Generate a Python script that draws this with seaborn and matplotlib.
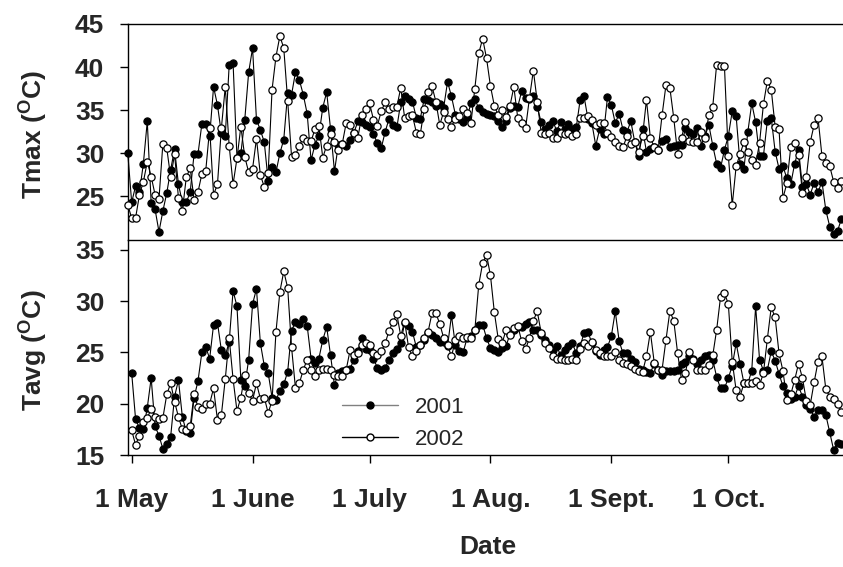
import matplotlib
matplotlib.use("Agg")
import matplotlib.pyplot as plt
from matplotlib.lines import Line2D
import numpy as np
import pandas as pd
import seaborn as sns

# days counted from 1 May (day -1 = 30 April)
days = list(range(-1, 183))

tmax_2001 = [30.0, 24.3, 26.2, 25.5, 28.8, 33.7, 24.2, 23.5, 20.9, 23.3,
             25.4, 28.1, 30.5, 26.4, 24.3, 24.3, 25.5, 29.9, 29.9, 33.4,
             33.4, 32.0, 37.7, 35.6, 32.3, 32.0, 40.2, 40.5, 29.5, 30.0,
             33.9, 39.4, 42.2, 33.9, 32.7, 31.3, 26.8, 28.4, 27.8, 30.0,
             31.6, 37.0, 36.8, 39.4, 38.5, 36.8, 34.6, 29.2, 31.0, 32.0,
             35.3, 37.1, 32.8, 27.9, 31.0, 31.1, 30.8, 31.6, 32.4, 33.7,
             33.6, 33.3, 33.1, 32.2, 31.2, 30.6, 32.5, 34.0, 33.3, 33.0,
             35.9, 36.7, 36.3, 36.0, 34.1, 34.0, 36.3, 36.2, 35.9, 35.5,
             35.7, 35.3, 38.3, 36.6, 34.5, 34.0, 33.6, 34.2, 35.8, 36.3,
             35.2, 34.8, 34.6, 34.5, 34.3, 33.7, 33.1, 33.8, 35.3, 35.5,
             35.4, 37.2, 36.4, 36.3, 36.6, 35.4, 33.6, 32.8, 33.3, 33.7,
             32.6, 33.6, 32.8, 33.4, 32.8, 33.0, 36.2, 36.6, 34.0, 33.5,
             30.9, 32.8, 32.2, 36.5, 35.6, 33.5, 34.6, 32.7, 32.5, 33.7,
             31.3, 29.7, 32.8, 30.2, 30.5, 30.7, 30.4, 31.4, 31.7, 30.7,
             30.8, 31.0, 31.0, 32.9, 32.5, 32.2, 32.9, 30.9, 32.0, 33.3,
             30.9, 28.8, 28.3, 30.4, 32.0, 34.9, 34.3, 28.8, 28.2, 32.5,
             35.8, 33.6, 29.7, 29.7, 33.8, 34.1, 30.2, 28.2, 28.5, 27.1,
             26.4, 28.8, 30.4, 26.1, 26.4, 25.2, 26.6, 25.5, 26.7, 23.4,
             21.5, 20.6, 21.0, 22.4]

tmax_2002 = [24.0, 22.5, 22.5, 25.2, 26.7, 29.0, 27.3, 25.2, 24.7, 31.1,
             30.6, 27.2, 29.9, 24.8, 23.3, 27.2, 28.3, 24.6, 25.5, 27.6,
             28.0, 32.9, 25.2, 26.4, 32.9, 37.7, 30.9, 26.4, 29.4, 33.1,
             29.6, 27.8, 28.2, 31.7, 27.5, 26.1, 27.7, 37.4, 41.2, 43.6,
             42.2, 36.1, 29.6, 29.8, 30.9, 31.8, 31.4, 31.4, 32.8, 33.2,
             29.5, 30.9, 32.2, 31.3, 30.4, 31.1, 33.5, 33.3, 32.4, 31.8,
             34.4, 35.1, 35.8, 33.9, 33.2, 34.9, 35.9, 35.1, 35.4, 35.4,
             37.6, 34.1, 34.3, 34.4, 32.4, 32.2, 35.1, 37.1, 37.8, 36.0,
             33.3, 34.8, 34.0, 33.1, 34.0, 34.3, 35.1, 34.7, 33.5, 37.5,
             41.6, 43.3, 41.0, 37.8, 35.5, 34.4, 35.0, 34.2, 35.5, 37.7,
             34.1, 33.5, 32.9, 36.4, 39.6, 36.0, 32.4, 32.2, 32.4, 31.8,
             31.8, 32.3, 32.2, 32.4, 32.0, 32.2, 34.1, 34.1, 34.3, 33.9,
             33.3, 33.5, 33.5, 32.3, 31.9, 31.3, 30.8, 30.7, 32.0, 31.1,
             31.3, 30.1, 32.0, 36.2, 31.8, 30.7, 30.4, 34.4, 37.9, 37.6,
             34.1, 29.9, 31.8, 33.6, 31.4, 31.3, 31.3, 32.5, 31.8, 34.4,
             35.4, 40.3, 40.1, 40.1, 29.7, 24.0, 28.5, 29.9, 31.3, 30.2,
             29.2, 28.7, 31.2, 35.7, 38.4, 37.4, 33.1, 32.8, 24.8, 26.5,
             30.7, 31.2, 29.8, 25.4, 27.2, 31.3, 33.3, 34.1, 29.7, 28.9,
             28.5, 26.7, 26.0, 26.8]

tavg_2001 = [np.nan, 23.0, 18.5, 17.6, 17.5, 19.6, 22.5, 17.8, 16.9, 15.6,
             16.1, 16.8, 20.7, 22.3, 18.7, 17.3, 17.1, 20.6, 22.2, 25.0,
             25.5, 24.4, 27.7, 27.9, 25.2, 24.7, 26.0, 31.0, 29.5, 22.3,
             21.7, 24.3, 29.7, 31.2, 25.9, 23.7, 23.0, 20.6, 20.4, 21.2,
             21.9, 23.1, 27.1, 28.0, 27.8, 28.3, 27.6, 24.4, 24.0, 24.4,
             26.2, 27.5, 24.7, 21.8, 23.0, 23.2, 23.3, 23.4, 24.3, 25.1,
             26.4, 25.3, 25.2, 24.4, 23.5, 23.3, 23.5, 24.3, 24.9, 25.3,
             25.9, 27.9, 27.6, 27.0, 25.5, 25.7, 26.2, 26.9, 26.7, 26.4,
             26.0, 26.0, 25.6, 28.6, 25.7, 25.1, 25.0, 26.4, 26.6, 27.2,
             27.7, 27.7, 26.4, 25.4, 25.2, 25.0, 25.4, 25.6, 26.8, 27.2,
             27.5, 27.5, 27.8, 28.0, 27.2, 27.2, 26.7, 26.2, 25.7, 25.2,
             25.6, 24.7, 25.2, 25.6, 25.9, 24.9, 25.6, 26.9, 27.0, 25.9,
             25.1, 24.7, 25.2, 25.5, 26.6, 29.0, 26.1, 24.9, 24.9, 24.4,
             24.1, 23.4, 23.3, 23.1, 23.0, 23.9, 23.3, 22.8, 23.2, 23.2,
             23.2, 23.3, 23.9, 24.1, 24.6, 24.4, 23.9, 24.3, 24.6, 24.7,
             24.3, 22.6, 21.5, 21.5, 22.5, 23.7, 25.9, 23.9, 22.0, 22.0,
             23.2, 29.5, 24.3, 23.2, 23.3, 25.1, 24.2, 22.9, 21.7, 21.0,
             20.5, 20.7, 21.7, 20.7, 19.9, 19.5, 18.7, 19.4, 19.4, 18.9,
             17.2, 15.5, 16.2, 16.1]

tavg_2002 = [np.nan, 17.4, 16.0, 16.9, 18.2, 18.6, 19.5, 18.7, 18.5, 18.6,
             20.9, 22.0, 20.2, 18.7, 17.5, 17.4, 17.8, 20.9, 19.7, 19.5,
             20.0, 20.0, 21.5, 18.4, 18.9, 22.4, 26.4, 22.4, 19.3, 20.6,
             22.8, 21.0, 20.3, 22.0, 20.5, 20.6, 19.1, 20.3, 27.0, 30.9,
             32.9, 31.3, 25.5, 21.5, 22.0, 23.3, 24.3, 23.3, 22.7, 23.3,
             23.4, 23.4, 23.3, 22.8, 22.7, 22.7, 23.3, 25.2, 24.7, 24.9,
             25.7, 25.9, 25.7, 24.9, 24.7, 25.1, 25.9, 27.1, 28.0, 28.7,
             26.6, 28.0, 25.5, 24.6, 25.1, 25.7, 26.4, 27.0, 28.8, 28.8,
             27.8, 26.4, 25.7, 24.6, 26.2, 26.6, 26.4, 26.5, 26.4, 27.2,
             31.6, 33.7, 34.5, 32.5, 28.9, 26.3, 25.9, 27.2, 26.7, 27.4,
             27.6, 26.1, 25.3, 26.4, 28.1, 29.0, 26.9, 25.9, 25.4, 24.6,
             24.4, 24.4, 24.3, 24.3, 24.4, 24.3, 25.3, 25.9, 25.6, 26.0,
             25.2, 24.9, 24.6, 24.6, 24.6, 25.0, 24.3, 24.0, 23.9, 23.7,
             23.4, 23.2, 23.1, 24.6, 27.0, 24.0, 23.3, 23.3, 26.2, 29.0,
             28.1, 24.9, 22.3, 23.0, 25.0, 24.3, 23.3, 23.3, 23.3, 23.8,
             24.7, 27.2, 30.4, 30.8, 29.7, 24.1, 21.3, 20.7, 22.0, 22.0,
             22.0, 22.2, 21.8, 23.0, 26.3, 29.4, 28.4, 24.9, 23.2, 20.4,
             20.9, 22.3, 23.9, 22.5, 20.3, 19.9, 22.1, 24.1, 24.6, 21.4,
             20.7, 20.5, 20.0, 19.2]

tick_days = [0, 31, 61, 92, 123, 153]
tick_labels = ["1 May", "1 June", "1 July", "1 Aug.", "1 Sept.", "1 Oct."]

df = pd.DataFrame({"day": days, "tmax_2001": tmax_2001, "tmax_2002": tmax_2002,
                   "tavg_2001": tavg_2001, "tavg_2002": tavg_2002})

sns.set_theme(style="ticks")
plt.rcParams["font.family"] = ["Liberation Sans", "DejaVu Sans"]
plt.rcParams["mathtext.default"] = "regular"

fig = plt.figure(figsize=(8.43, 5.67), dpi=100)
ax1 = fig.add_axes([0.1518, 0.5776, 0.8482, 0.3801])
ax2 = fig.add_axes([0.1518, 0.1975, 0.8482, 0.3801])
ax1.set_facecolor("none")
ax2.set_facecolor("none")

style_01 = dict(color="black", linewidth=0.8, marker="o", markersize=5.2,
                markerfacecolor="black", markeredgecolor="black",
                markeredgewidth=0.8, clip_on=False, zorder=3)
style_02 = dict(color="black", linewidth=0.8, marker="o", markersize=5.2,
                markerfacecolor="white", markeredgecolor="black",
                markeredgewidth=0.9, clip_on=False, zorder=4)

for ax, col, lims, ticks in [(ax1, "tmax", (20, 45), [25, 30, 35, 40, 45]),
                             (ax2, "tavg", (15, 36), [15, 20, 25, 30, 35])]:
    sns.lineplot(data=df, x="day", y=col + "_2001", ax=ax, **style_01)
    sns.lineplot(data=df, x="day", y=col + "_2002", ax=ax, **style_02)
    ax.set_xlim(-0.95, 182.4)
    ax.set_ylim(*lims)
    ax.set_yticks(ticks)
    ax.set_xlabel("")
    ax.set_ylabel("")
    ax.spines["right"].set_visible(False)
    for s in ax.spines.values():
        s.set_linewidth(1.0)
        s.set_color("black")
    ax.tick_params(axis="both", direction="out", length=6, width=1,
                   color="black", labelsize=19)
    ax.tick_params(axis="y", pad=11)
    for lab in ax.get_yticklabels():
        lab.set_fontweight("bold")

ax1.set_xticks([])
ax1.tick_params(axis="x", bottom=False, labelbottom=False)
ax2.spines["top"].set_visible(False)
ax2.set_xticks(tick_days)
ax2.set_xticklabels(tick_labels, fontweight="bold")
ax2.tick_params(axis="x", pad=18)

fig.text(34 / 843, 1 - 135 / 567, "Tmax ($^{O}$C)", rotation=90, ha="center",
         va="center", fontsize=19, fontweight="bold")
fig.text(34 / 843, 1 - 350 / 567, "Tavg ($^{O}$C)", rotation=90, ha="center",
         va="center", fontsize=19, fontweight="bold")
fig.text(488 / 843, 1 - 547 / 567, "Date", ha="center", va="center",
         fontsize=19, fontweight="bold")

handles = [Line2D([], [], color="gray", linewidth=1, marker="o", markersize=5,
                  markerfacecolor="black", markeredgecolor="black"),
           Line2D([], [], color="black", linewidth=1, marker="o", markersize=5,
                  markerfacecolor="white", markeredgecolor="black")]
ax2.legend(handles, ["2001", "2002"], loc="upper left",
           bbox_to_anchor=(342 / 843, 1 - 397 / 567),
           bbox_transform=fig.transFigure, frameon=False, fontsize=16,
           numpoints=1, handlelength=2.5, handletextpad=0.8,
           borderpad=0, borderaxespad=0, labelspacing=0.5)

fig.savefig("out.png", dpi=100)
